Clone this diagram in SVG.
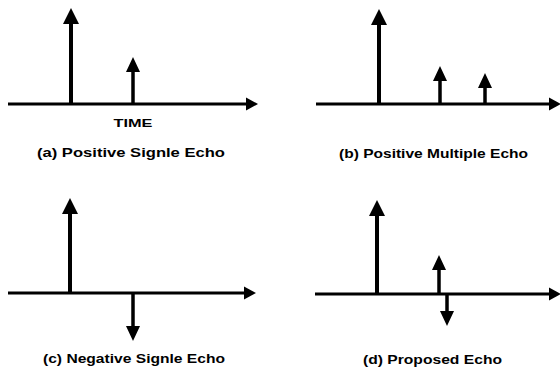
<svg xmlns="http://www.w3.org/2000/svg" width="560" height="372" viewBox="0 0 560 372">
<style>
.axis{stroke:#000;stroke-width:3;fill:none;marker-end:url(#ax)}
.big{stroke:#000;stroke-width:4;fill:none;marker-end:url(#hb)}
.small{stroke:#000;stroke-width:3.5;fill:none;marker-end:url(#hs)}
.lbl{font-family:"Liberation Sans",Arial,sans-serif;font-weight:bold;font-size:13.5px;fill:#000;text-anchor:middle}
.time{font-family:"Liberation Sans",Arial,sans-serif;font-weight:bold;font-size:11.5px;fill:#000;text-anchor:middle}
</style>
<defs>
<marker id="ax" markerUnits="userSpaceOnUse" markerWidth="14" markerHeight="14" refX="0" refY="6.5" orient="auto" overflow="visible"><path d="M0,0 L12,6.5 L0,13 z" fill="#000"/></marker>
<marker id="hb" markerUnits="userSpaceOnUse" markerWidth="18" markerHeight="18" refX="0" refY="8" orient="auto" overflow="visible"><path d="M0,0 L16,8 L0,16 z" fill="#000"/></marker>
<marker id="hs" markerUnits="userSpaceOnUse" markerWidth="16" markerHeight="16" refX="0" refY="7" orient="auto" overflow="visible"><path d="M0,0 L15,7 L0,14 z" fill="#000"/></marker>
</defs>
<g id="panel-a">
<g id="connectors-a">
<line class="axis" x1="8" y1="104" x2="246" y2="104"/>
<line class="big" x1="71" y1="105" x2="71" y2="24"/>
<line class="small" x1="133" y1="104" x2="133" y2="72"/>
</g>
<text class="time" x="133" y="127" textLength="39" lengthAdjust="spacingAndGlyphs">TIME</text>
<text class="lbl" x="131" y="157" textLength="188" lengthAdjust="spacingAndGlyphs">(a) Positive Signle Echo</text>
</g>
<g id="panel-b">
<g id="connectors-b">
<line class="axis" x1="316" y1="104" x2="549" y2="104"/>
<line class="big" x1="379" y1="105" x2="379" y2="25"/>
<line class="small" x1="440" y1="104" x2="440" y2="81"/>
<line class="small" x1="485" y1="104" x2="485" y2="88"/>
</g>
<text class="lbl" x="433.5" y="158" textLength="189" lengthAdjust="spacingAndGlyphs">(b) Positive Multiple Echo</text>
</g>
<g id="panel-c">
<g id="connectors-c">
<line class="axis" x1="8" y1="293" x2="244" y2="293"/>
<line class="big" x1="70" y1="294" x2="70" y2="214"/>
<line class="small" x1="133" y1="293" x2="133" y2="326"/>
</g>
<text class="lbl" x="134" y="363" textLength="182" lengthAdjust="spacingAndGlyphs">(c) Negative Signle Echo</text>
</g>
<g id="panel-d">
<g id="connectors-d">
<line class="axis" x1="315" y1="294" x2="549" y2="294"/>
<line class="big" x1="377" y1="295" x2="377" y2="216"/>
<line class="small" x1="439" y1="294" x2="439" y2="270"/>
<line class="small" x1="447" y1="294" x2="447" y2="311"/>
</g>
<text class="lbl" x="432.5" y="364" textLength="139" lengthAdjust="spacingAndGlyphs">(d) Proposed Echo</text>
</g>
</svg>
